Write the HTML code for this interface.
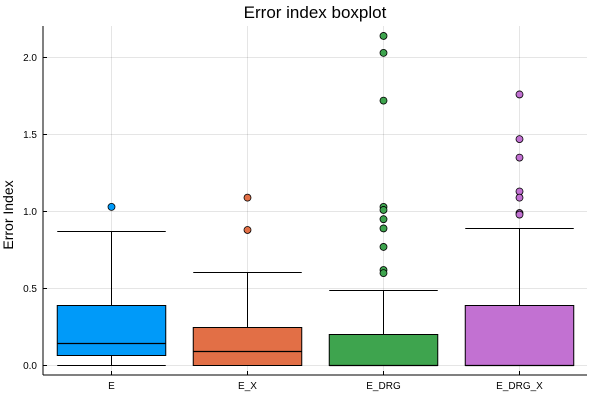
<!DOCTYPE html>
<html><head><meta charset="utf-8"><style>
body{margin:0;background:#fff;font-family:"Liberation Sans",sans-serif}
</style></head><body>
<svg id="chart" width="600" height="400" xmlns="http://www.w3.org/2000/svg" font-family="Liberation Sans, sans-serif">
<text x="315" y="18" font-size="17" text-anchor="middle" fill="#000">Error index boxplot</text>
<text transform="translate(13,215) rotate(-90)" font-size="14" text-anchor="middle" fill="#000">Error Index</text>
<g id="grid"></g><g id="marks"></g><g id="axes"></g>
</svg>
<script>
const categories = ["E","E_X","E_DRG","E_DRG_X"];
const colors = ["#009af9","#e26f46","#3ea44e","#c271d2"];
const whiskerLow = [0,0,0,0];
const q1 = [0.065,0,0,0];
const medians = [0.14,0.09,0,0];
const q3 = [0.39,0.25,0.2,0.39];
const whiskerHigh = [0.87,0.605,0.49,0.89];
const outliers = [
  [1.03],
  [1.09,0.88],
  [2.14,2.03,1.72,1.03,1.01,0.95,0.89,0.77,0.62,0.6],
  [1.76,1.47,1.35,1.13,1.09,0.99,0.98]
];
const yTicks = [0,0.5,1,1.5,2];
const yTickLabels = ["0.0","0.5","1.0","1.5","2.0"];

const L=43,R=587,T=26,B=375;
const yr=v=>365.5-v*154;
const y=v=>Math.round(yr(v)-0.5)+0.5;
const x=i=>111.5+i*136;
const bw=108.5;
const NS="http://www.w3.org/2000/svg";
function mk(parent,tag,attrs){const e=document.createElementNS(NS,tag);for(const k in attrs)e.setAttribute(k,attrs[k]);parent.appendChild(e);return e;}
const grid=document.getElementById('grid'),marks=document.getElementById('marks'),axes=document.getElementById('axes');
yTicks.forEach((t,i)=>{
  const g=mk(grid,'line',{x1:L,x2:R,y1:y(t),y2:y(t),stroke:'#000','stroke-opacity':0.1,'stroke-width':1});
  
  
  mk(axes,'line',{x1:L,x2:L+4,y1:y(t),y2:y(t),stroke:'#000','stroke-width':1});
  const tx=mk(axes,'text',{x:L-6,y:y(t)+3.5,'font-size':10,'text-anchor':'end',fill:'#000'});
  tx.textContent=yTickLabels[i];
  
  
});
categories.forEach((c,i)=>{
  const g=mk(grid,'line',{x1:x(i),x2:x(i),y1:T,y2:B,stroke:'#000','stroke-opacity':0.1,'stroke-width':1});
  
  
  mk(axes,'line',{x1:x(i),x2:x(i),y1:B,y2:B-4,stroke:'#000','stroke-width':1});
  const tx=mk(axes,'text',{x:x(i),y:B+14,'font-size':10,'text-anchor':'middle',fill:'#000'});
  tx.textContent=c;
  
  
  const grp=mk(marks,'g',{});
  
  
  const l=x(i)-bw/2,r=x(i)+bw/2;
  mk(grp,'line',{x1:x(i),x2:x(i),y1:y(whiskerLow[i]),y2:y(whiskerHigh[i]),stroke:'#000','stroke-width':1});
  mk(grp,'line',{x1:l,x2:r,y1:y(whiskerLow[i]),y2:y(whiskerLow[i]),stroke:'#000','stroke-width':1});
  mk(grp,'line',{x1:l,x2:r,y1:y(whiskerHigh[i]),y2:y(whiskerHigh[i]),stroke:'#000','stroke-width':1});
  mk(grp,'rect',{x:l,y:y(q3[i]),width:bw,height:Math.max(y(q1[i])-y(q3[i]),0.5),fill:colors[i],stroke:'#000','stroke-width':1});
  mk(grp,'line',{x1:l,x2:r,y1:y(medians[i]),y2:y(medians[i]),stroke:'#000','stroke-width':1.2});
  outliers[i].forEach(v=>{
    const p=mk(marks,'circle',{cx:x(i),cy:yr(v),r:3.5,fill:colors[i],stroke:'#000','stroke-width':0.8});
    
    
  });
});
mk(axes,'line',{x1:L,x2:L,y1:T,y2:B,stroke:'#000','stroke-width':1});
mk(axes,'line',{x1:L,x2:R,y1:B,y2:B,stroke:'#000','stroke-width':1});
</script>
</body></html>
